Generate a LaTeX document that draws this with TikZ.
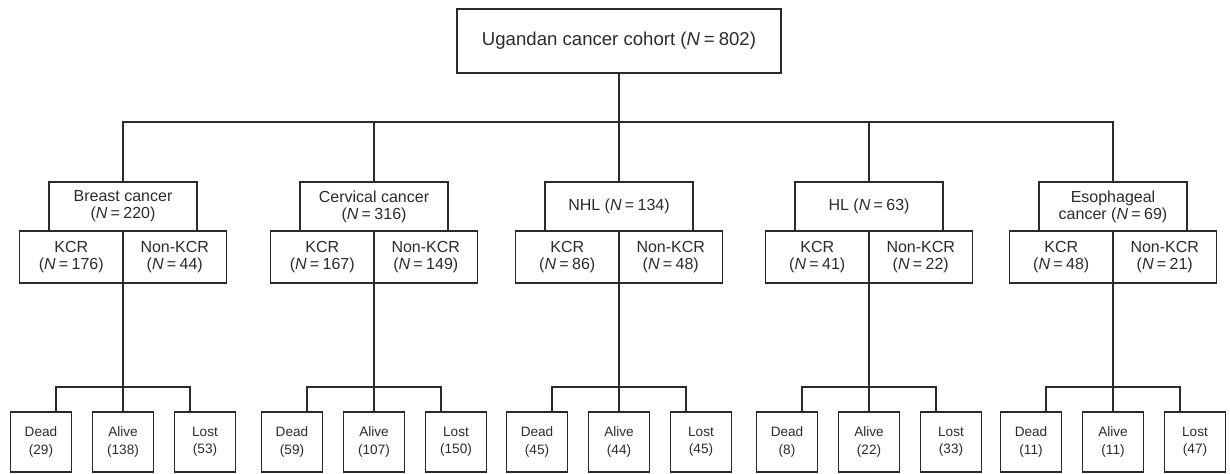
\documentclass[tikz,border=0pt]{standalone}
\usepackage{fontspec}
\setmainfont{Liberation Sans}
\usepackage{xcolor}
\usepackage{tikz}
\definecolor{ink}{HTML}{2b2b2b}
\newcommand{\ncount}[1]{(\textit{N}\kern0.2em=\kern0.22em#1)}

\begin{document}
\begin{tikzpicture}[x=0.5pt, y=-0.5pt, line width=0.55pt, draw=ink,
    box/.style={draw=ink, text=ink, align=center, inner sep=0pt, outer sep=0pt},
    topbox/.style={minimum width=162pt, minimum height=32pt, font=\fontsize{9.3}{11}\selectfont},
    grpbox/.style={minimum width=74pt, minimum height=24.5pt, font=\fontsize{8}{8.5}\selectfont},
    subbox/.style={minimum width=51.75pt, minimum height=26pt, font=\fontsize{8}{8.5}\selectfont},
    outbox/.style={minimum width=30.5pt, minimum height=30pt, font=\fontsize{6.8}{8.7}\selectfont}]
      \useasboundingbox (0,0) rectangle (1230,474);
      \pgfmathsetmacro{\ybar}{122}  % level of the top branching line
      \pgfmathsetmacro{\ygrp}{206.5}
      \pgfmathsetmacro{\ysub}{257}
      \pgfmathsetmacro{\ylow}{387}  % level of the lower branching lines
      \pgfmathsetmacro{\yout}{442}
      \pgfmathsetmacro{\dx}{82}     % spacing of the outcome boxes
      % Cohort
      \node[box, topbox] (cohort) at (619,41) {Ugandan cancer cohort \ncount{802}};
      \coordinate (bar) at (619,\ybar);
      % Breast cancer
      \node[box, grpbox] (breast) at (123,\ygrp) {Breast cancer\\\ncount{220}};
      \node[box, subbox, anchor=east] (breastkcr) at (123,\ysub) {KCR\\\ncount{176}};
      \node[box, subbox, anchor=west] (breastnon) at (123,\ysub) {Non-KCR\\\ncount{44}};
      \node[box, outbox] (breastdead) at (123-\dx,\yout) {Dead\\(29)};
      \node[box, outbox] (breastalive) at (123,\yout) {Alive\\(138)};
      \node[box, outbox] (breastlost) at (123+\dx,\yout) {Lost\\(53)};
      \coordinate (breastbar) at (123,\ylow);
      % Cervical cancer
      \node[box, grpbox] (cervical) at (374,\ygrp) {Cervical cancer\\\ncount{316}};
      \node[box, subbox, anchor=east] (cervicalkcr) at (374,\ysub) {KCR\\\ncount{167}};
      \node[box, subbox, anchor=west] (cervicalnon) at (374,\ysub) {Non-KCR\\\ncount{149}};
      \node[box, outbox] (cervicaldead) at (374-\dx,\yout) {Dead\\(59)};
      \node[box, outbox] (cervicalalive) at (374,\yout) {Alive\\(107)};
      \node[box, outbox] (cervicallost) at (374+\dx,\yout) {Lost\\(150)};
      \coordinate (cervicalbar) at (374,\ylow);
      % NHL
      \node[box, grpbox] (nhl) at (619,\ygrp) {NHL \ncount{134}};
      \node[box, subbox, anchor=east] (nhlkcr) at (619,\ysub) {KCR\\\ncount{86}};
      \node[box, subbox, anchor=west] (nhlnon) at (619,\ysub) {Non-KCR\\\ncount{48}};
      \node[box, outbox] (nhldead) at (619-\dx,\yout) {Dead\\(45)};
      \node[box, outbox] (nhlalive) at (619,\yout) {Alive\\(44)};
      \node[box, outbox] (nhllost) at (619+\dx,\yout) {Lost\\(45)};
      \coordinate (nhlbar) at (619,\ylow);
      % HL
      \node[box, grpbox] (hl) at (869,\ygrp) {HL \ncount{63}};
      \node[box, subbox, anchor=east] (hlkcr) at (869,\ysub) {KCR\\\ncount{41}};
      \node[box, subbox, anchor=west] (hlnon) at (869,\ysub) {Non-KCR\\\ncount{22}};
      \node[box, outbox] (hldead) at (869-\dx,\yout) {Dead\\(8)};
      \node[box, outbox] (hlalive) at (869,\yout) {Alive\\(22)};
      \node[box, outbox] (hllost) at (869+\dx,\yout) {Lost\\(33)};
      \coordinate (hlbar) at (869,\ylow);
      % Esophageal cancer
      \node[box, grpbox] (esoph) at (1113,\ygrp) {Esophageal\\cancer \ncount{69}};
      \node[box, subbox, anchor=east] (esophkcr) at (1113,\ysub) {KCR\\\ncount{48}};
      \node[box, subbox, anchor=west] (esophnon) at (1113,\ysub) {Non-KCR\\\ncount{21}};
      \node[box, outbox] (esophdead) at (1113-\dx,\yout) {Dead\\(11)};
      \node[box, outbox] (esophalive) at (1113,\yout) {Alive\\(11)};
      \node[box, outbox] (esophlost) at (1113+\dx,\yout) {Lost\\(47)};
      \coordinate (esophbar) at (1113,\ylow);
      % Top branching
      \draw (cohort.south) -- (bar);
      \draw (breast.north) |- (bar) -| (esoph.north);
      \draw (cervical.north) -- (cervical.north |- bar);
      \draw (nhl.north) -- (bar);
      \draw (hl.north) -- (hl.north |- bar);
      % Lower branching, the outer lines meet the boxes off centre
      \draw (breastkcr.south east) -- (breastalive.north);
      \draw ([xshift=7.5pt]breastdead.north) |- (breastbar) -| ([xshift=-7.5pt]breastlost.north);
      \draw (cervicalkcr.south east) -- (cervicalalive.north);
      \draw ([xshift=7.5pt]cervicaldead.north) |- (cervicalbar) -| ([xshift=-7.5pt]cervicallost.north);
      \draw (nhlkcr.south east) -- (nhlalive.north);
      \draw ([xshift=7.5pt]nhldead.north) |- (nhlbar) -| ([xshift=-7.5pt]nhllost.north);
      \draw (hlkcr.south east) -- (hlalive.north);
      \draw ([xshift=7.5pt]hldead.north) |- (hlbar) -| ([xshift=-7.5pt]hllost.north);
      \draw (esophkcr.south east) -- (esophalive.north);
      \draw ([xshift=7.5pt]esophdead.north) |- (esophbar) -| ([xshift=-7.5pt]esophlost.north);
    \end{tikzpicture}
\end{document}
